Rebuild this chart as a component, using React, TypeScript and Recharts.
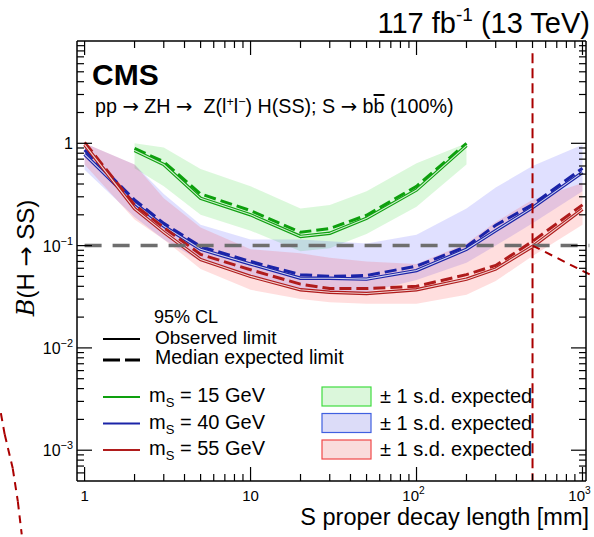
import React from "react";
import { ComposedChart, Area, Line, XAxis, YAxis, ReferenceLine } from "recharts";

const W = 594;
const H = 537;
const FONT = "'Liberation Sans', Arial, Helvetica, sans-serif";
const ARROW_FONT = "'DejaVu Sans', sans-serif";

// S proper decay length [mm]
const decayLength = [1, 2, 3, 5, 10, 20, 30, 50, 100, 200, 300, 500, 1000];

// m_S = 15 GeV
const obs15 = [null, 0.85, 0.62, 0.29, 0.2, 0.123, 0.132, 0.185, 0.35, 0.95, null, null, null];
const exp15 = [null, 0.89, 0.66, 0.32, 0.22, 0.135, 0.147, 0.198, 0.38, 1.0, null, null, null];
const lo15 = [null, 0.57, 0.38, 0.2, 0.14, 0.088, 0.094, 0.13, 0.24, 0.62, null, null, null];
const hi15 = [null, 1.3, 0.91, 0.56, 0.38, 0.23, 0.25, 0.34, 0.64, 1.4, null, null, null];

// m_S = 40 GeV
const obs40 = [0.78, 0.26, 0.155, 0.092, 0.066, 0.048, 0.048, 0.047, 0.057, 0.092, 0.14, 0.235, 0.52];
const exp40 = [0.86, 0.28, 0.165, 0.098, 0.07, 0.052, 0.05, 0.051, 0.063, 0.098, 0.158, 0.252, 0.57];
const lo40 = [0.55, 0.19, 0.115, 0.07, 0.05, 0.036, 0.034, 0.035, 0.046, 0.068, 0.1, 0.165, 0.34];
const hi40 = [1.2, 0.62, 0.32, 0.16, 0.115, 0.115, 0.11, 0.105, 0.128, 0.23, 0.37, 0.6, 0.97];

// m_S = 55 GeV
const obs55 = [0.97, 0.23, 0.135, 0.073, 0.05, 0.037, 0.035, 0.034, 0.037, 0.047, 0.059, 0.098, 0.227];
const exp55 = [1.02, 0.25, 0.15, 0.082, 0.058, 0.042, 0.038, 0.038, 0.04, 0.052, 0.064, 0.11, 0.25];
const lo55 = [0.62, 0.18, 0.115, 0.059, 0.037, 0.03, 0.028, 0.027, 0.027, 0.033, 0.045, 0.079, 0.16];
const hi55 = [1.28, 0.62, 0.29, 0.15, 0.092, 0.084, 0.076, 0.07, 0.066, 0.105, 0.17, 0.28, 0.41];

// B = 0.1 reference, and the dashed red guide lines of the figure
const refB = 0.1;
const refLength = 500;
const diagGuide = [
  { x: 500, y: 0.1 },
  { x: 1166, y: 0.05 },
];
const strayCurve = [
  { x: 0.313, y: 0.0023 },
  { x: 0.33, y: 0.00143 },
  { x: 0.369, y: 0.000665 },
  { x: 0.396, y: 0.000316 },
  { x: 0.418, y: 0.00015 },
];

const xDomain = [0.9, 1050];
const yDomain = [5e-4, 10];
const xTickLabels: Record<number, string> = { 1: "1", 10: "10", 100: "10^2", 1000: "10^3" };
const yTickLabels: Record<number, string> = { 1: "1", 0.1: "10^−1", 0.01: "10^−2", 0.001: "10^−3" };
const steps = [1, 2, 3, 4, 5, 6, 7, 8, 9];

const GREEN = "#0ea00e";
const BLUE = "#1b24a8";
const RED = "#b01c1c";

// limits above B = 1 are cut at 1 in the figure
const cap = (v: number) => Math.min(v, 1);

const rows = decayLength.map((x, i) => ({
  x,
  obs15: obs15[i],
  exp15: exp15[i],
  band15: lo15[i] != null ? [lo15[i], cap(hi15[i] as number)] : null,
  obs40: obs40[i],
  exp40: exp40[i],
  band40: [lo40[i], cap(hi40[i])],
  obs55: obs55[i],
  exp55: exp55[i],
  band55: [lo55[i], cap(hi55[i])],
}));

const logTicks = (decades: number[], lo: number, hi: number) => {
  const out: number[] = [];
  decades.forEach((d) => steps.forEach((s) => {
    const v = s * d;
    if (v > lo * 1.001 && v < hi * 0.999) out.push(v);
  }));
  return out;
};
const xTicks = logTicks([0.1, 1, 10, 100, 1000], xDomain[0], xDomain[1]);
const yTicks = logTicks([1e-4, 1e-3, 1e-2, 1e-1, 1], yDomain[0], yDomain[1]);

const isMajor = (v: number) => Math.abs(Math.log10(v) - Math.round(Math.log10(v))) < 1e-6;
const labelOf = (table: Record<number, string>, v: number) => {
  const key = Object.keys(table).find((k) => Math.abs(Math.log10(Number(k)) - Math.log10(v)) < 1e-6);
  return key ? table[Number(key)] : null;
};

const Label = ({ text, x, y, anchor, size }: { text: string; x: number; y: number; anchor: string; size: number }) => {
  const [base, exp] = text.split("^");
  return (
    <text x={x} y={y} textAnchor={anchor} fontSize={size} fontFamily={FONT} fill="#000">
      {base}
      {exp && (
        <tspan dy={-7} fontSize={size * 0.68}>
          {exp}
        </tspan>
      )}
    </text>
  );
};

const BottomTick = (p: any) => {
  const v = p.payload.value;
  const major = isMajor(v);
  const lab = major ? labelOf(xTickLabels, v) : null;
  return (
    <g>
      <line x1={p.x} x2={p.x} y1={p.y} y2={p.y - (major ? 14 : 7)} stroke="#000" strokeWidth={1.2} />
      {lab && <Label text={lab} x={lab.includes("^") ? p.x - 3 : p.x} y={p.y + 20} anchor="middle" size={15} />}
    </g>
  );
};

const TopTick = (p: any) => {
  const major = isMajor(p.payload.value);
  return <line x1={p.x} x2={p.x} y1={p.y} y2={p.y + (major ? 14 : 7)} stroke="#000" strokeWidth={1.2} />;
};

const LeftTick = (p: any) => {
  const v = p.payload.value;
  const major = isMajor(v);
  const lab = major ? labelOf(yTickLabels, v) : null;
  return (
    <g>
      <line x1={p.x} x2={p.x + (major ? 15 : 7)} y1={p.y} y2={p.y} stroke="#000" strokeWidth={1.2} />
      {lab && <Label text={lab} x={p.x - 4} y={p.y + 6} anchor="end" size={16} />}
    </g>
  );
};

const RightTick = (p: any) => {
  const major = isMajor(p.payload.value);
  return <line x1={p.x} x2={p.x - (major ? 15 : 7)} y1={p.y} y2={p.y} stroke="#000" strokeWidth={1.2} />;
};

const legendMasses = [
  { label: "15", color: GREEN, fill: "#dbf7db", edge: "#40dc40" },
  { label: "40", color: BLUE, fill: "#dcdcf8", edge: "#4060e0" },
  { label: "55", color: RED, fill: "#fadcdc", edge: "#f04848" },
];

const Arrow = () => <tspan fontFamily={ARROW_FONT}>→</tspan>;

const Overlay = () => (
  <svg
    width={W}
    height={H}
    style={{ position: "absolute", left: 0, top: 0, pointerEvents: "none" }}
    fontFamily={FONT}
  >
    <text x={590} y={33} fontSize={29} textAnchor="end" xmlSpace="preserve">
      117 fb<tspan dy={-12} fontSize={19}>-1</tspan>
      <tspan dy={12}> (13 TeV)</tspan>
    </text>
    <text x={92} y={85} fontSize={30} fontWeight="bold">
      CMS
    </text>
    <text x={95} y={113} fontSize={19.7} xmlSpace="preserve">
      pp <Arrow /> ZH <Arrow />  Z(l<tspan dy={-7} fontSize={12.5}>+</tspan>
      <tspan dy={7}>l</tspan>
      <tspan dy={-7} fontSize={12.5}>−</tspan>
      <tspan dy={7}>) H(SS); S </tspan>
      <Arrow />
      <tspan> b</tspan>
      <tspan style={{ textDecoration: "overline" }}>b</tspan>
      <tspan> (100%)</tspan>
    </text>
    <text transform="translate(34,258) rotate(-90)" textAnchor="middle" fontSize={24}>
      <tspan fontStyle="italic" fontFamily="'DejaVu Serif', serif">B</tspan>(H <Arrow /> SS)
    </text>
    <text x={589} y={525} textAnchor="end" fontSize={23.5}>
      S proper decay length [mm]
    </text>

    <text x={154} y={322.5} fontSize={18}>95% CL</text>
    <line x1={103} x2={140} y1={339} y2={339} stroke="#000" strokeWidth={2} />
    <text x={155} y={344} fontSize={19}>Observed limit</text>
    <line x1={103} x2={140} y1={360} y2={360} stroke="#000" strokeWidth={3} strokeDasharray="17 5" />
    <text x={155} y={364} fontSize={19.5}>Median expected limit</text>

    {legendMasses.map((m, i) => {
      const yl = 397 + i * 26.5;
      return (
        <g key={m.label}>
          <line x1={103} x2={140} y1={yl} y2={yl} stroke={m.color} strokeWidth={2} />
          <text x={149} y={yl + 5} fontSize={20} xmlSpace="preserve">
            m<tspan dy={5} fontSize={13}>S</tspan>
            <tspan dy={-5}> = {m.label} GeV</tspan>
          </text>
          <rect x={322} y={yl - 10} width={49} height={19} fill={m.fill} stroke={m.edge} strokeWidth={1.2} />
          <text x={380} y={yl + 6} fontSize={20}>± 1 s.d. expected</text>
        </g>
      );
    })}
  </svg>
);

export default function App() {
  const dashed = "12 5";
  const axisLine = { stroke: "#000", strokeWidth: 1.5 };
  return (
    <div style={{ position: "absolute", left: 0, top: 0, width: W, height: H, background: "#fff" }}>
      <ComposedChart width={W} height={H} data={rows} margin={{ top: 40, right: 7, bottom: 55, left: 76 }}>
        <XAxis
          dataKey="x"
          type="number"
          scale="log"
          domain={xDomain}
          allowDataOverflow
          ticks={xTicks}
          interval={0}
          tick={<BottomTick />}
          tickLine={false}
          tickSize={0}
          tickMargin={0}
          height={1}
          axisLine={axisLine}
        />
        <XAxis
          xAxisId="top"
          orientation="top"
          dataKey="x"
          type="number"
          scale="log"
          domain={xDomain}
          allowDataOverflow
          ticks={xTicks}
          interval={0}
          tick={<TopTick />}
          tickLine={false}
          tickSize={0}
          tickMargin={0}
          height={1}
          axisLine={axisLine}
        />
        <YAxis
          type="number"
          scale="log"
          domain={yDomain}
          allowDataOverflow
          ticks={yTicks}
          interval={0}
          tick={<LeftTick />}
          tickLine={false}
          tickSize={0}
          tickMargin={0}
          width={1}
          axisLine={axisLine}
        />
        <YAxis
          yAxisId="right"
          orientation="right"
          type="number"
          scale="log"
          domain={yDomain}
          allowDataOverflow
          ticks={yTicks}
          interval={0}
          tick={<RightTick />}
          tickLine={false}
          tickSize={0}
          tickMargin={0}
          width={1}
          axisLine={axisLine}
        />

        <Area dataKey="band15" type="linear" fill="#00d000" fillOpacity={0.14} stroke="none" isAnimationActive={false} />
        <Area dataKey="band40" type="linear" fill="#2020ff" fillOpacity={0.14} stroke="none" isAnimationActive={false} />
        <Area dataKey="band55" type="linear" fill="#ff2020" fillOpacity={0.15} stroke="none" isAnimationActive={false} />

        <Line dataKey="exp15" type="linear" stroke={GREEN} strokeWidth={3} strokeDasharray={dashed} dot={false} isAnimationActive={false} />
        <Line dataKey="obs15" type="linear" stroke={GREEN} strokeWidth={3.4} dot={false} isAnimationActive={false} />
        <Line dataKey="obs15" type="linear" stroke="#fff" strokeOpacity={0.8} strokeWidth={1.1} dot={false} isAnimationActive={false} />

        <Line dataKey="exp40" type="linear" stroke={BLUE} strokeWidth={3} strokeDasharray={dashed} dot={false} isAnimationActive={false} />
        <Line dataKey="obs40" type="linear" stroke={BLUE} strokeWidth={3.4} dot={false} isAnimationActive={false} />
        <Line dataKey="obs40" type="linear" stroke="#fff" strokeOpacity={0.8} strokeWidth={1.1} dot={false} isAnimationActive={false} />

        <Line dataKey="exp55" type="linear" stroke={RED} strokeWidth={3} strokeDasharray={dashed} dot={false} isAnimationActive={false} />
        <Line dataKey="obs55" type="linear" stroke={RED} strokeWidth={3.4} dot={false} isAnimationActive={false} />
        <Line dataKey="obs55" type="linear" stroke="#fff" strokeOpacity={0.8} strokeWidth={1.1} dot={false} isAnimationActive={false} />

        <ReferenceLine
          segment={[{ x: 1, y: refB }, { x: 1100, y: refB }]}
          ifOverflow="visible"
          stroke="#6e6e6e"
          strokeWidth={3.5}
          strokeDasharray="17 11"
        />
        <ReferenceLine
          segment={[{ x: refLength, y: 7.6 }, { x: refLength, y: yDomain[0] }]}
          ifOverflow="visible"
          stroke="#aa0000"
          strokeWidth={2}
          strokeDasharray="10 5"
        />
        <ReferenceLine segment={diagGuide} ifOverflow="visible" stroke="#aa0000" strokeWidth={2} strokeDasharray="8 6" />
        {strayCurve.slice(1).map((p, i) => (
          <ReferenceLine
            key={i}
            segment={[strayCurve[i], p]}
            ifOverflow="visible"
            stroke="#aa0000"
            strokeWidth={2}
            strokeDasharray="8 6"
          />
        ))}
      </ComposedChart>
      <Overlay />
    </div>
  );
}
